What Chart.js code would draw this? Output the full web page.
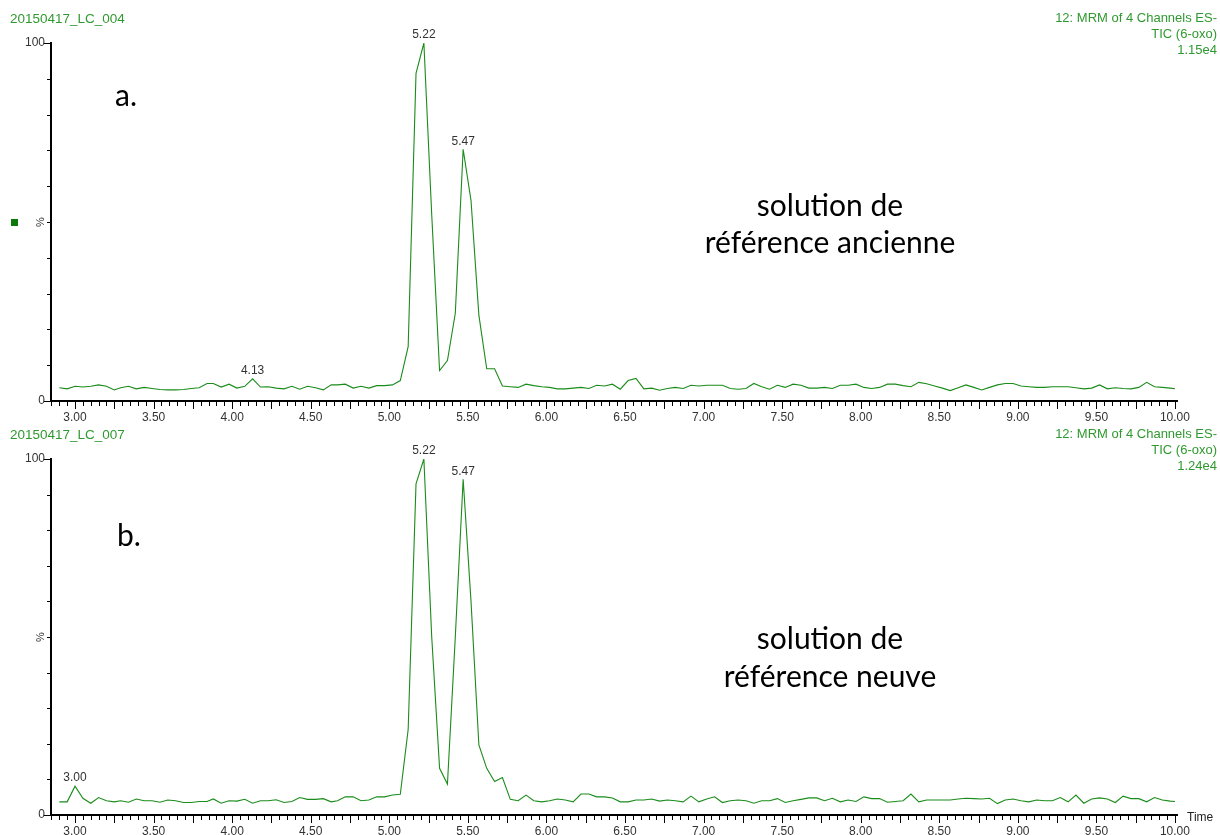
<!DOCTYPE html>
<html>
<head>
<meta charset="utf-8">
<script src="https://cdn.jsdelivr.net/npm/chart.js@4.4.0/dist/chart.umd.min.js"></script>
<style>
  body { margin: 0; background: #fff; }
  #wrap { position: relative; width: 1220px; height: 835px; overflow: hidden; font-family: "Liberation Sans", Arial, sans-serif; }
  canvas { position: absolute; left: 0; }
  .hdr { position: absolute; color: #2f9a2f; font-size: 13px; line-height: 16px; white-space: nowrap; }
  .hdr.r { text-align: right; right: 3px; }
  .note { position: absolute; font-family: Lato, "Open Sans", sans-serif; font-size: 30px; line-height: 36px; color: #000; white-space: nowrap; }
  .note.c { width: 400px; left: 630px; text-align: center; }
  .time { position: absolute; left: 1187px; top: 810px; font-size: 12px; color: #222; }
</style>
</head>
<body>
<div id="wrap">
  <canvas id="chartA" width="1220" height="430" style="top:0"></canvas>
  <canvas id="chartB" width="1220" height="405" style="top:430px"></canvas>

  <div class="hdr" style="left:10px;top:11px;font-size:13.5px">20150417_LC_004</div>
  <div class="hdr r" style="top:10px">12: MRM of 4 Channels ES-<br>TIC (6-oxo)<br>1.15e4</div>
  <div class="hdr" style="left:10px;top:427px;font-size:13.5px">20150417_LC_007</div>
  <div class="hdr r" style="top:426px">12: MRM of 4 Channels ES-<br>TIC (6-oxo)<br>1.24e4</div>

  <div class="note" style="left:115px;top:76px">a.</div>
  <div class="note c" style="top:186px">solution de</div>
  <div class="note c" style="top:223px">référence ancienne</div>
  <div class="note" style="left:117px;top:516px">b.</div>
  <div class="note c" style="top:619px">solution de</div>
  <div class="note c" style="top:657px">référence neuve</div>
  <div class="time">Time</div>
</div>

<script>
// retention times (min)
const times = [
  2.90, 2.95,
  3.00, 3.05, 3.10, 3.15, 3.20, 3.25, 3.29, 3.34, 3.39, 3.44, 3.49, 3.54, 3.59, 3.64, 3.69, 3.74, 3.79, 3.84, 3.88, 3.93, 3.98, 4.03, 4.08, 4.13,
  4.18, 4.23, 4.28, 4.33, 4.38, 4.43, 4.48, 4.53, 4.58, 4.63, 4.67, 4.72, 4.77, 4.82, 4.87, 4.92, 4.97, 5.02, 5.07, 5.12, 5.17, 5.22,
  5.27, 5.32, 5.37, 5.42, 5.47,
  5.52, 5.57, 5.62, 5.67, 5.72, 5.77, 5.82, 5.87, 5.92, 5.97,
  6.02, 6.07, 6.12, 6.17, 6.22, 6.27, 6.32, 6.37, 6.42, 6.47, 6.52, 6.57, 6.62, 6.67, 6.72, 6.77, 6.82, 6.87, 6.92, 6.97,
  7.02, 7.07, 7.12, 7.17, 7.22, 7.27, 7.32, 7.37, 7.42, 7.47, 7.52, 7.57, 7.62, 7.67, 7.72, 7.77, 7.82, 7.87, 7.92, 7.97,
  8.02, 8.07, 8.12, 8.17, 8.22, 8.27, 8.32, 8.37, 8.42, 8.47, 8.52, 8.57, 8.62, 8.67, 8.72, 8.77, 8.82, 8.87, 8.92, 8.97,
  9.02, 9.07, 9.12, 9.17, 9.22, 9.27, 9.32, 9.37, 9.42, 9.47, 9.52, 9.57, 9.62, 9.67, 9.72, 9.77, 9.82, 9.87, 9.92, 9.97,
  10.00
];

// a. old reference solution (% of 1.15e4)
const oldRef = [
  3.7, 3.4,
  4.1, 3.9, 4.1, 4.5, 4.1, 3.1, 3.7, 4.1, 3.4, 3.8, 3.5, 3.2, 3.1, 3.1, 3.2, 3.5, 3.7, 4.9, 4.9, 3.9, 4.7, 3.6, 4.1, 6.2,
  3.9, 4.0, 3.6, 3.4, 4.1, 3.3, 4.1, 3.7, 3.1, 4.5, 4.5, 4.7, 3.6, 4.1, 3.6, 4.3, 4.3, 4.5, 5.7, 15.2, 91.5, 100,
  52, 8.5, 11.3, 24.5, 70.3,
  56, 24, 9.0, 9.0, 4.2, 4.0, 3.8, 4.7, 4.3, 4.0,
  3.8, 3.4, 3.4, 3.6, 3.8, 3.5, 4.4, 4.2, 4.7, 3.3, 5.7, 6.3, 3.4, 3.6, 3.0, 3.5, 3.8, 3.5, 4.4, 4.2,
  4.4, 4.4, 4.4, 3.5, 3.3, 3.5, 4.9, 4.0, 3.3, 4.4, 3.8, 4.7, 4.4, 3.6, 3.6, 3.8, 3.5, 4.4, 4.4, 4.7,
  3.8, 3.5, 3.8, 4.7, 4.7, 4.3, 4.0, 5.2, 4.8, 4.2, 3.6, 2.9, 3.7, 4.5, 3.8, 3.1, 3.8, 4.5, 4.9, 4.9,
  4.2, 4.0, 3.8, 3.8, 4.0, 4.0, 4.0, 3.7, 3.4, 3.6, 4.5, 3.4, 3.7, 3.5, 3.4, 3.8, 5.2, 4.0, 3.8, 3.6,
  3.4
];

// b. new reference solution (% of 1.24e4)
const newRef = [
  3.7, 3.7,
  8.1, 4.7, 3.3, 4.9, 4.0, 3.7, 4.0, 3.6, 4.5, 4.0, 4.0, 3.6, 4.2, 4.0, 3.5, 3.5, 3.8, 3.8, 4.5, 3.3, 4.0, 3.9, 4.4, 3.3,
  4.0, 4.0, 4.3, 3.5, 3.8, 4.9, 4.4, 4.4, 4.6, 3.7, 4.0, 5.1, 5.1, 4.0, 4.2, 5.1, 5.1, 5.6, 5.8, 24, 93, 100,
  50, 13.1, 8.7, 50, 94.3,
  60, 19.7, 13.1, 9.4, 10.5, 4.4, 4.0, 5.6, 4.0, 3.7,
  4.0, 4.5, 4.2, 3.7, 5.9, 5.9, 5.1, 5.1, 4.8, 3.7, 3.7, 4.2, 4.2, 4.5, 3.9, 4.2, 4.0, 3.7, 5.3, 3.7,
  4.5, 5.1, 3.5, 4.0, 4.2, 4.0, 3.3, 4.0, 4.0, 4.6, 3.5, 4.0, 4.4, 4.8, 4.8, 4.0, 4.7, 3.7, 4.2, 3.8,
  5.1, 4.6, 4.6, 3.6, 3.8, 4.0, 5.9, 3.7, 4.2, 4.2, 4.2, 4.2, 4.5, 4.7, 4.6, 4.5, 4.7, 3.2, 4.2, 4.5,
  4.0, 3.7, 4.2, 4.0, 4.0, 4.9, 3.7, 5.6, 3.3, 4.5, 4.8, 4.5, 3.5, 5.3, 4.6, 4.6, 3.7, 4.9, 4.2, 3.9,
  3.8
];

const oldPeaks = [4.13, 5.22, 5.47];
const newPeaks = [3.00, 5.22, 5.47];

const xLabels = ['3.00', '3.50', '4.00', '4.50', '5.00', '5.50', '6.00', '6.50', '7.00', '7.50', '8.00', '8.50', '9.00', '9.50', '10.00'];
const yLabels = ['0', '100'];

const lineColor = '#1a8c1a';
const tickFont = { family: '"Liberation Sans", Arial, sans-serif', size: 12 };

// tick marks, peak labels, "%" and the little marker
function decor(peaks, marker) {
  return {
    id: 'decor',
    afterDraw(chart) {
      const { ctx, chartArea: area, scales: { x, y } } = chart;
      ctx.save();
      ctx.strokeStyle = '#000';
      ctx.lineWidth = 1;
      ctx.beginPath();
      x.ticks.forEach(t => {
        const q = t.value * 4;
        const len = Math.abs(q - Math.round(q)) < 1e-6 ? 7 : 4;
        const px = Math.round(x.getPixelForValue(t.value)) + 0.5;
        ctx.moveTo(px, area.bottom + 1);
        ctx.lineTo(px, area.bottom + 1 + len);
      });
      y.ticks.forEach(t => {
        const len = (t.value === 0 || t.value === 100) ? 6 : 3;
        const py = Math.round(y.getPixelForValue(t.value)) + 0.5;
        ctx.moveTo(area.left - 1 - len, py);
        ctx.lineTo(area.left - 1, py);
      });
      ctx.stroke();

      // peak apex labels
      const pts = chart.getDatasetMeta(0).data;
      ctx.fillStyle = '#333';
      ctx.font = '12px "Liberation Sans", Arial, sans-serif';
      ctx.textAlign = 'center';
      ctx.textBaseline = 'bottom';
      peaks.forEach(p => {
        const i = times.indexOf(p);
        if (i < 0) return;
        ctx.fillText(p.toFixed(2), pts[i].x, pts[i].y - 2);
      });

      // "%" at mid height
      ctx.save();
      ctx.translate(area.left - 10, y.getPixelForValue(50));
      ctx.rotate(-Math.PI / 2);
      ctx.textBaseline = 'middle';
      ctx.font = '11px "Liberation Sans", Arial, sans-serif';
      ctx.fillText('%', 0, 0);
      ctx.restore();

      if (marker) {
        ctx.fillStyle = '#0b7a0b';
        ctx.fillRect(11, Math.round(y.getPixelForValue(50)) - 3, 7, 7);
      }
      ctx.restore();
    }
  };
}

function makeChart(id, values, peaks, padTop, axisH, marker) {
  return new Chart(document.getElementById(id), {
    type: 'line',
    data: {
      datasets: [{
        data: times.map((t, i) => ({ x: t, y: values[i] })),
        borderColor: lineColor,
        borderWidth: 1.1,
        pointRadius: 0,
        tension: 0,
        fill: false
      }]
    },
    options: {
      responsive: false,
      animation: false,
      layout: { padding: { top: padTop, right: 43, left: 0, bottom: 0 } },
      plugins: { legend: { display: false }, tooltip: { enabled: false } },
      scales: {
        x: {
          type: 'linear',
          min: 2.847,
          max: 10.013,
          grid: { display: false, drawTicks: false },
          border: { display: true, color: '#000', width: 2 },
          ticks: {
            stepSize: 0.05,
            autoSkip: false,
            includeBounds: false,
            maxRotation: 0,
            padding: 9,
            color: '#333',
            font: tickFont,
            callback: v => {
              const s = Number(v).toFixed(2);
              return xLabels.includes(s) ? s : '';
            }
          },
          afterFit: s => { s.height = axisH; }
        },
        y: {
          min: 0,
          max: 100,
          grid: { display: false, drawTicks: false },
          border: { display: true, color: '#000', width: 2 },
          ticks: {
            stepSize: 10,
            autoSkip: false,
            padding: 6,
            color: '#333',
            font: tickFont,
            callback: v => (yLabels.includes(String(v)) ? String(v) : '')
          },
          afterFit: s => { s.width = 51; }
        }
      }
    },
    plugins: [decor(peaks, marker)]
  });
}

makeChart('chartA', oldRef, oldPeaks, 43, 29, true);
makeChart('chartB', newRef, newPeaks, 29, 20, false);
</script>
</body>
</html>
